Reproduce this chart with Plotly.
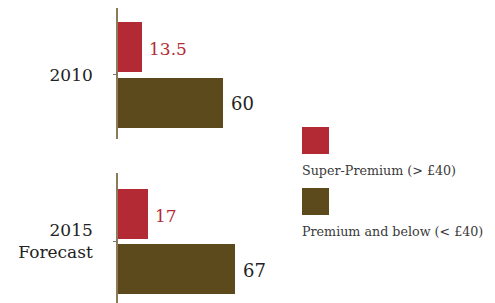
import plotly.graph_objects as go
from plotly.subplots import make_subplots

categories = ["2010", "2015<br>Forecast"]
series_names = ["Super-Premium (> £40)", "Premium and below (< £40)"]
super_premium = [13.5, 17]
premium_below = [60, 67]

RED = "#b32a34"
BROWN = "#5c4a1c"
FONT = "DejaVu Serif"

# page body has an 8px margin, so the figure is drawn 8px in from the corner
OFF = 8
W = 495 - OFF
H = 303 - OFF


def px(x):
    return (x - OFF) / W


def py(y):
    return min(1.0, max(0.0, 1 - (y - OFF) / H))


fig = make_subplots(rows=2, cols=1, shared_xaxes=False, vertical_spacing=0.0)

for i, cat in enumerate(categories):
    row = i + 1
    fig.add_trace(go.Bar(orientation="h", x=[super_premium[i]], y=[1], width=0.893,
                         marker=dict(color=RED, line=dict(width=0)), showlegend=False,
                         name=series_names[0]), row=row, col=1)
    fig.add_trace(go.Bar(orientation="h", x=[premium_below[i]], y=[0], width=0.893,
                         marker=dict(color=BROWN, line=dict(width=0)), showlegend=False,
                         name=series_names[1]), row=row, col=1)
    xref = "x" if row == 1 else "x2"
    yref = "y" if row == 1 else "y2"
    fig.add_annotation(x=super_premium[i], y=1, xref=xref, yref=yref, text=f"{super_premium[i]:g}",
                       showarrow=False, xanchor="left", xshift=5, yshift=-2,
                       font=dict(family=FONT, size=17, color=RED))
    fig.add_annotation(x=premium_below[i], y=0, xref=xref, yref=yref, text=f"{premium_below[i]:g}",
                       showarrow=False, xanchor="left", xshift=6, yshift=-1,
                       font=dict(family=FONT, size=18, color="#222222"))

axis_common = dict(showgrid=False, zeroline=False, automargin=False)
fig.update_xaxes(range=[0, 215.4], domain=[px(118), 1], showticklabels=False, showline=False,
                 ticks="", **axis_common)
fig.update_yaxes(showline=True, linecolor="#8c7b58", linewidth=1.6, ticks="outside",
                 ticklen=3, tickcolor="#777777", tickwidth=1, tickvals=[0.5],
                 tickfont=dict(family=FONT, size=17, color="#222222"),
                 ticklabelstandoff=17, **axis_common)
fig.update_yaxes(range=[-0.643, 1.696], domain=[py(139), py(8)],
                 ticktext=[categories[0]], row=1, col=1)
fig.update_yaxes(range=[-0.607, 1.732], domain=[0, py(173)],
                 ticktext=[categories[1]], row=2, col=1)

# Legend (swatches above labels)
legend_items = [(RED, series_names[0], 127, 170), (BROWN, series_names[1], 188, 231)]
for color, label, top, text_y in legend_items:
    fig.add_shape(type="rect", xref="paper", yref="paper",
                  x0=px(302), x1=px(329), y0=py(top + 27), y1=py(top),
                  fillcolor=color, line=dict(width=0))
    fig.add_annotation(xref="paper", yref="paper", x=px(300), y=py(text_y), text=label,
                       showarrow=False, xanchor="left", yanchor="middle",
                       font=dict(family=FONT, size=12.7, color="#3a3a3a"))

fig.update_layout(width=W, height=H, margin=dict(l=0, r=0, t=0, b=0),
                  plot_bgcolor="white", paper_bgcolor="white", bargap=0)
fig.write_html("out.html")
